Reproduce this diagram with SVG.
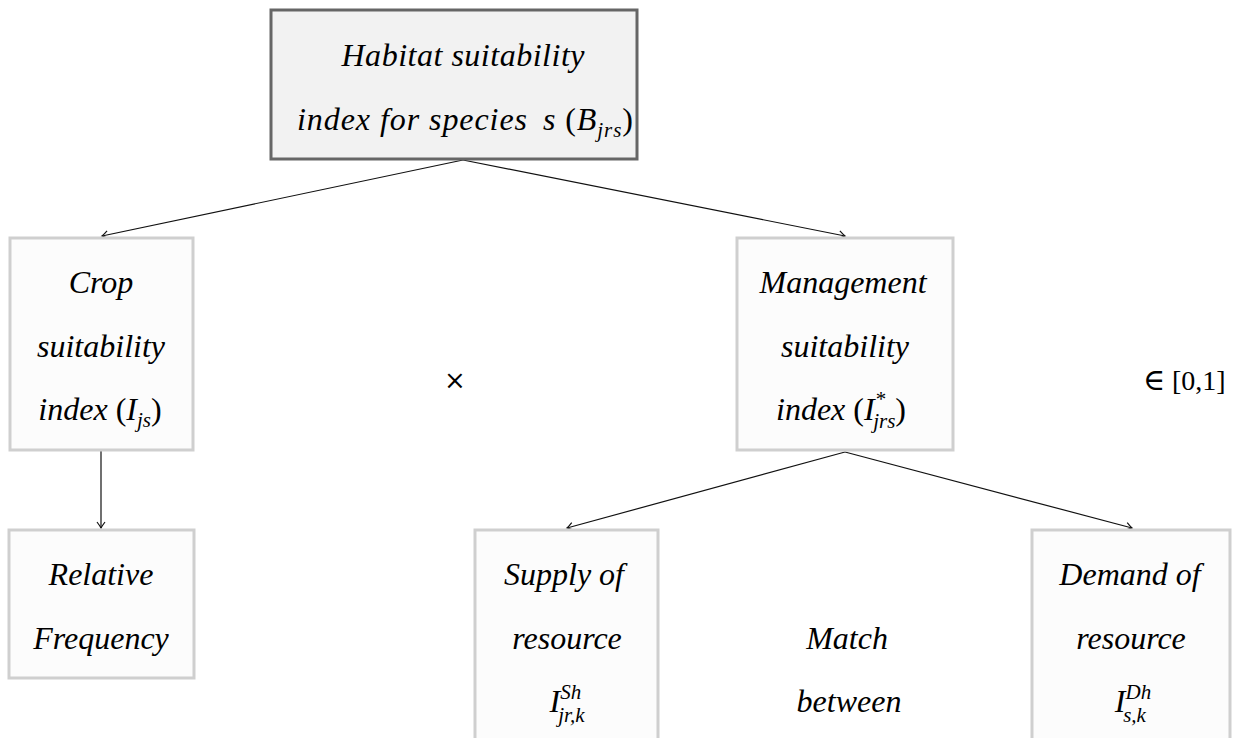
<svg xmlns="http://www.w3.org/2000/svg" width="1235" height="738" viewBox="0 0 1235 738">
<style>
  .t { font-family: "Liberation Serif", "Times New Roman", serif; font-style: italic; font-size: 32px; fill: #000; text-anchor: middle; }
  .up { font-style: normal; }
  .s { font-size: 21px; }
  .main { fill: #f2f2f2; stroke: #666; stroke-width: 3; }
  .box { fill: #fcfcfc; stroke: #cfcfcf; stroke-width: 3; }
  .sym { font-family: "DejaVu Serif", serif; fill: #000; }
  .num { font-family: "Liberation Serif", serif; font-size: 28px; fill: #000; }
  .conn { stroke: #111; stroke-width: 1.2; fill: none; marker-end: url(#arr); }
</style>
<defs>
  <marker id="arr" viewBox="-8 -5 10 10" refX="0" refY="0" markerWidth="10" markerHeight="10" markerUnits="userSpaceOnUse" orient="auto">
    <path d="M -6 -4 Q -2 -1 0 0 Q -2 1 -6 4" fill="none" stroke="#111" stroke-width="1.2"/>
  </marker>
</defs>
<rect width="1235" height="738" fill="#fff"/>

<g id="connectors">
  <line class="conn" x1="463" y1="160" x2="102" y2="236"/>
  <line class="conn" x1="463" y1="160" x2="845" y2="236"/>
  <line class="conn" x1="101" y1="451" x2="101" y2="528"/>
  <line class="conn" x1="845" y1="452" x2="567" y2="528"/>
  <line class="conn" x1="845" y1="452" x2="1132" y2="528"/>
</g>

<g id="habitat">
  <rect class="main" x="271" y="10" width="366" height="149"/>
  <text class="t" x="463" y="66" textLength="243" lengthAdjust="spacing">Habitat suitability</text>
  <text class="t" x="465" y="130" textLength="336" lengthAdjust="spacing">index for species <tspan dx="6">s</tspan> <tspan class="up">(</tspan>B<tspan class="s" dy="7">jrs</tspan><tspan class="up" dy="-7">)</tspan></text>
</g>

<g id="crop">
  <rect class="box" x="10" y="238" width="183" height="212"/>
  <text class="t" x="101" y="293">Crop</text>
  <text class="t" x="101" y="357">suitability</text>
  <text class="t" x="100" y="420">index <tspan class="up">(</tspan>I<tspan class="s" dy="7">js</tspan><tspan class="up" dy="-7">)</tspan></text>
</g>

<g id="management">
  <rect class="box" x="737" y="238" width="216" height="212"/>
  <text class="t" x="843" y="293">Management</text>
  <text class="t" x="845" y="357">suitability</text>
  <text class="t" x="841" y="420">index <tspan class="up">(</tspan>I<tspan class="s" dy="-14">*</tspan><tspan class="s" dx="-12" dy="22">jrs</tspan><tspan class="up" dy="-8">)</tspan></text>
</g>

<g id="relative">
  <rect class="box" x="9" y="530" width="185" height="148"/>
  <text class="t" x="101" y="585">Relative</text>
  <text class="t" x="101" y="649">Frequency</text>
</g>

<g id="supply">
  <rect class="box" x="475" y="530" width="183" height="220"/>
  <text class="t" x="564" y="585">Supply of</text>
  <text class="t" x="567" y="649">resource</text>
  <text class="t" x="567" y="712">I<tspan class="s" dy="-13">Sh</tspan><tspan class="s" dx="-23" dy="23">jr,k</tspan></text>
</g>

<g id="match">
  <text class="t" x="847" y="649">Match</text>
  <text class="t" x="849" y="712">between</text>
</g>

<g id="demand">
  <rect class="box" x="1032" y="530" width="198" height="220"/>
  <text class="t" x="1130" y="585">Demand of</text>
  <text class="t" x="1131" y="649">resource</text>
  <text class="t" x="1133" y="712">I<tspan class="s" dy="-13">Dh</tspan><tspan class="s" dx="-28" dy="23">s,k</tspan></text>
</g>

<g id="operators">
  <text class="sym" x="455" y="389" font-size="26" text-anchor="middle" fill="#222">×</text>
  <text class="sym" x="1143" y="390" font-size="30" fill="#222">∈</text>
  <text class="num" x="1172" y="390">[0,1]</text>
</g>
</svg>
